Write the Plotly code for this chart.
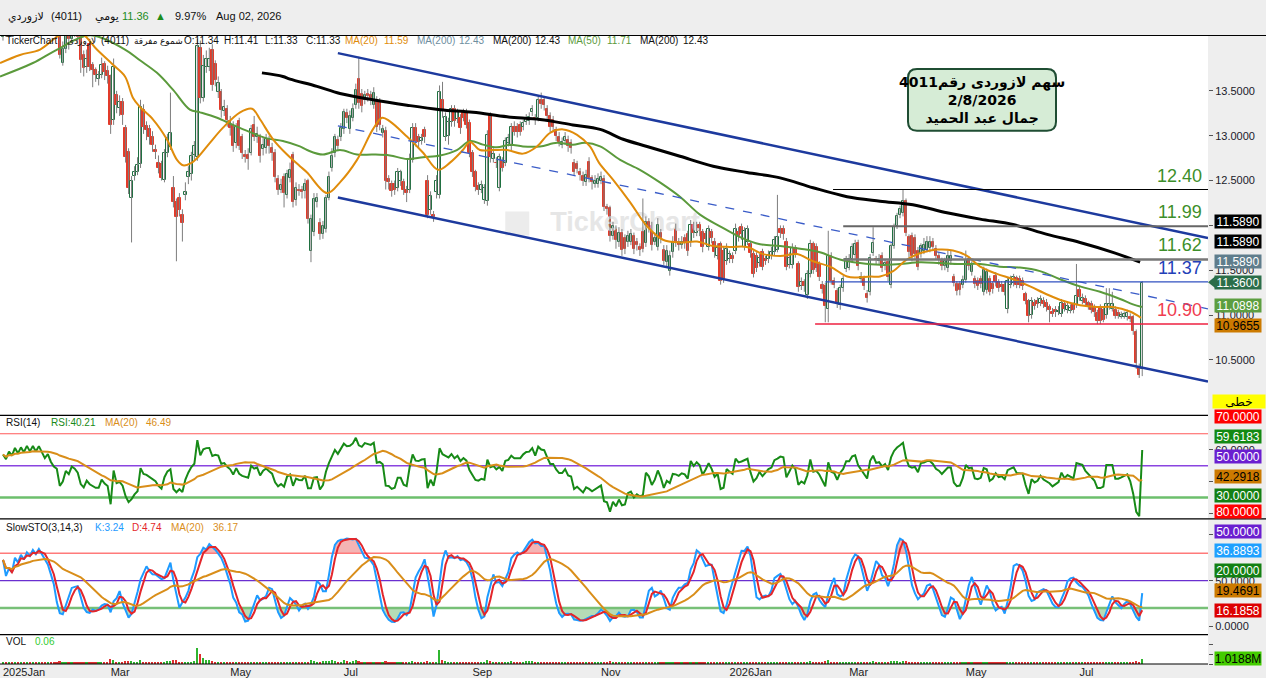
import numpy as np
import pandas as pd
import plotly.graph_objects as go
from plotly.subplots import make_subplots

# daily candles, index 0 = first visible session (Jan 2025)
opens = [
    14.10, 14.22, 14.15, 14.30, 14.24, 14.40, 14.32, 14.45, 14.38, 14.52,
    14.44, 14.56, 14.48, 14.60, 14.50, 14.42, 14.50, 14.38, 14.30, 14.28,
    13.81, 13.97, 14.15, 14.08, 14.22, 14.18, 14.10, 13.90, 13.76, 14.02,
    13.79, 13.73, 13.63, 13.68, 13.80, 13.72, 13.66, 13.18, 13.45, 13.31,
    13.38, 13.09, 12.82, 12.30, 12.55, 12.60, 12.68, 13.29, 13.11, 13.07,
    12.98, 12.84, 12.70, 12.68, 12.51, 12.81, 12.87, 12.42, 12.26, 12.31,
    12.12, 12.34, 12.54, 12.57, 12.79, 12.76, 13.98, 13.42, 13.76, 13.77,
    13.96, 13.80, 13.49, 13.49, 13.28, 13.30, 13.16, 13.12, 12.92, 13.16,
    12.98, 12.79, 12.79, 12.81, 13.12, 12.99, 12.98, 12.85, 12.86, 12.96,
    12.86, 12.81, 12.52, 12.40, 12.54, 12.34, 12.53, 12.79, 12.28, 12.40,
    12.40, 12.38, 12.49, 11.71, 11.93, 12.26, 12.03, 11.90, 11.96, 12.31,
    12.64, 12.81, 12.95, 12.99, 13.07, 13.25, 13.08, 13.20, 13.34, 13.63,
    13.46, 13.40, 13.47, 13.45, 13.34, 13.40, 13.38, 13.03, 13.05, 12.52,
    12.46, 12.46, 12.42, 12.49, 12.48, 12.40, 12.40, 12.73, 13.09, 12.98,
    12.94, 13.06, 12.50, 12.17, 12.12, 12.37, 12.34, 13.40, 12.99, 13.00,
    13.15, 13.30, 13.19, 13.20, 13.26, 13.26, 13.14, 12.81, 12.59, 12.44,
    12.40, 12.28, 12.27, 13.23, 12.74, 12.70, 12.42, 12.72, 12.70, 12.92,
    12.88, 13.10, 13.10, 13.12, 13.10, 13.15, 13.16, 13.26, 13.20, 13.20,
    13.40, 13.40, 13.30, 13.22, 13.18, 13.06, 12.99, 12.90, 12.94, 12.95,
    12.92, 12.70, 12.68, 12.59, 12.55, 12.48, 12.71, 12.53, 12.46, 12.46,
    12.50, 12.52, 12.21, 12.19, 11.88, 11.96, 11.82, 11.92, 11.86, 11.82,
    11.82, 11.88, 11.82, 11.76, 11.93, 11.80, 12.04, 11.99, 11.82, 11.76,
    11.92, 11.73, 11.59, 11.49, 11.70, 11.97, 11.82, 11.78, 11.86, 11.90,
    11.81, 12.01, 11.92, 12.00, 11.93, 11.90, 11.76, 11.93, 11.82, 11.66,
    11.79, 11.72, 11.60, 11.62, 11.66, 11.71, 11.93, 11.98, 11.76, 11.82,
    11.79, 11.68, 11.66, 11.58, 11.70, 11.62, 11.62, 11.66, 11.70, 11.73,
    11.96, 11.96, 11.82, 11.56, 11.56, 11.75, 11.57, 11.32, 11.37, 11.22,
    11.46, 11.79, 11.76, 11.57, 11.34, 11.32, 11.07, 11.66, 11.38, 11.27,
    11.11, 11.30, 11.51, 11.53, 11.63, 11.67, 11.80, 11.40, 11.40, 11.24,
    11.26, 11.69, 11.63, 11.60, 11.66, 11.56, 11.59, 11.34, 11.77, 11.99,
    12.12, 12.14, 12.27, 11.87, 11.88, 11.86, 11.72, 11.68, 11.72, 11.73,
    11.75, 11.82, 11.74, 11.66, 11.60, 11.55, 11.52, 11.60, 11.43, 11.35,
    11.35, 11.34, 11.39, 11.62, 11.48, 11.40, 11.38, 11.40, 11.26, 11.28,
    11.40, 11.35, 11.44, 11.37, 11.34, 11.34, 11.07, 11.34, 11.36, 11.41,
    11.40, 11.38, 11.23, 11.16, 11.00, 11.14, 11.16, 11.14, 11.16, 11.14,
    11.09, 11.04, 11.06, 11.03, 11.01, 11.12, 11.06, 11.05, 11.12, 11.11,
    11.28, 11.16, 11.18, 11.13, 11.12, 11.08, 11.02, 11.08, 11.06, 11.00,
    11.09, 11.07, 11.06, 11.02, 10.98, 10.98, 10.98, 10.98, 10.98, 10.81,
    10.42, 10.40,
]
closes = [
    14.22, 14.15, 14.30, 14.24, 14.40, 14.32, 14.45, 14.38, 14.52, 14.44,
    14.56, 14.48, 14.60, 14.50, 14.42, 14.50, 14.38, 14.30, 14.26, 13.90,
    13.97, 14.15, 14.08, 14.22, 14.18, 14.10, 13.84, 13.75, 13.86, 13.77,
    13.73, 13.68, 13.68, 13.79, 13.71, 13.66, 13.12, 13.77, 13.34, 13.37,
    13.23, 12.76, 12.42, 12.49, 12.60, 12.67, 13.32, 13.10, 13.06, 12.98,
    12.90, 12.82, 12.64, 12.53, 12.81, 12.97, 13.03, 12.26, 12.09, 12.17,
    12.03, 12.37, 12.59, 12.77, 12.88, 14.00, 13.42, 13.78, 13.85, 13.86,
    13.56, 13.62, 13.59, 13.29, 13.32, 13.18, 13.09, 12.89, 13.10, 12.89,
    12.81, 12.76, 12.74, 13.08, 12.99, 13.02, 12.77, 12.90, 12.96, 12.88,
    12.81, 12.54, 12.40, 12.45, 12.36, 12.57, 12.62, 12.26, 12.42, 12.38,
    12.37, 12.46, 12.07, 12.07, 12.29, 12.30, 11.90, 11.99, 12.30, 12.54,
    12.77, 12.98, 12.88, 13.09, 13.26, 13.20, 13.22, 13.30, 13.51, 13.36,
    13.33, 13.45, 13.44, 13.42, 13.48, 13.10, 13.12, 13.07, 12.49, 12.48,
    12.38, 12.40, 12.59, 12.59, 12.40, 12.36, 12.74, 13.09, 12.94, 12.93,
    12.97, 12.98, 12.12, 12.33, 12.09, 12.50, 13.49, 13.27, 13.21, 13.15,
    13.30, 13.16, 13.26, 13.09, 13.20, 13.12, 12.81, 12.60, 12.43, 12.40,
    12.45, 12.42, 13.01, 12.76, 12.80, 12.69, 12.76, 12.64, 12.94, 12.97,
    13.10, 13.04, 13.04, 13.04, 13.14, 13.20, 13.21, 13.30, 13.17, 13.40,
    13.35, 13.34, 13.22, 13.10, 13.10, 13.00, 12.93, 12.93, 12.99, 12.88,
    12.86, 12.60, 12.63, 12.56, 12.50, 12.56, 12.53, 12.48, 12.50, 12.52,
    12.54, 12.21, 12.18, 11.88, 11.99, 11.84, 11.92, 11.73, 11.74, 11.88,
    11.90, 11.74, 11.78, 11.73, 11.74, 12.04, 11.97, 11.78, 11.86, 12.01,
    11.86, 11.60, 11.72, 11.66, 11.82, 11.81, 11.78, 11.82, 11.80, 11.72,
    12.01, 11.92, 11.99, 11.94, 11.76, 11.85, 11.96, 11.86, 11.70, 11.75,
    11.38, 11.40, 11.74, 11.68, 11.63, 11.96, 11.88, 11.90, 11.94, 11.96,
    11.69, 11.46, 11.52, 11.64, 11.54, 11.60, 11.67, 11.70, 11.84, 11.87,
    11.91, 11.90, 11.54, 11.64, 11.75, 11.68, 11.31, 11.37, 11.32, 11.46,
    11.79, 11.50, 11.52, 11.43, 11.29, 11.10, 11.66, 11.38, 11.34, 11.12,
    11.30, 11.40, 11.62, 11.62, 11.76, 11.79, 11.55, 11.43, 11.33, 11.19,
    11.64, 11.80, 11.61, 11.63, 11.52, 11.58, 11.43, 11.77, 11.98, 12.10,
    12.18, 12.27, 11.92, 11.70, 11.66, 11.68, 11.54, 11.77, 11.78, 11.82,
    11.82, 11.76, 11.66, 11.62, 11.55, 11.60, 11.66, 11.66, 11.36, 11.27,
    11.28, 11.39, 11.61, 11.55, 11.56, 11.35, 11.33, 11.35, 11.50, 11.48,
    11.26, 11.29, 11.37, 11.30, 11.31, 11.26, 11.38, 11.40, 11.42, 11.34,
    11.34, 11.33, 11.16, 10.99, 11.16, 11.10, 11.12, 11.18, 11.12, 11.09,
    11.06, 11.01, 11.03, 11.05, 11.14, 11.07, 11.10, 11.08, 11.06, 11.21,
    11.20, 11.19, 11.13, 11.10, 11.06, 11.03, 10.94, 10.94, 10.95, 11.12,
    11.12, 11.12, 10.99, 10.99, 11.00, 11.01, 11.02, 10.96, 10.82, 10.47,
    10.33, 11.36,
]
highs = [
    14.28, 14.30, 14.36, 14.36, 14.46, 14.46, 14.52, 14.52, 14.58, 14.58,
    14.62, 14.62, 14.66, 14.66, 14.56, 14.56, 14.56, 14.44, 14.36, 14.32,
    14.05, 14.22, 14.20, 14.30, 14.30, 14.24, 14.15, 13.95, 13.96, 14.08,
    13.82, 13.76, 13.72, 13.87, 13.83, 13.78, 13.68, 13.86, 13.50, 13.45,
    13.42, 13.12, 12.86, 12.55, 12.66, 12.76, 13.40, 13.35, 13.16, 13.12,
    13.05, 12.90, 12.78, 12.72, 12.85, 13.02, 13.48, 12.55, 12.30, 12.36,
    12.18, 12.48, 12.66, 12.82, 12.94, 14.08, 14.06, 13.90, 13.95, 13.98,
    14.02, 13.84, 13.66, 13.52, 13.40, 13.34, 13.22, 13.16, 13.14, 13.20,
    13.02, 12.84, 12.86, 13.12, 13.22, 13.10, 13.02, 12.98, 13.02, 13.00,
    12.92, 12.85, 12.56, 12.52, 12.58, 12.62, 12.70, 12.82, 12.48, 12.46,
    12.44, 12.52, 12.52, 12.12, 12.36, 12.36, 12.08, 12.05, 12.34, 12.60,
    12.86, 13.02, 13.00, 13.14, 13.30, 13.30, 13.28, 13.36, 13.58, 13.88,
    13.52, 13.50, 13.52, 13.50, 13.54, 13.44, 13.42, 13.12, 13.10, 12.56,
    12.50, 12.50, 12.64, 12.62, 12.52, 12.44, 12.80, 13.14, 13.14, 13.02,
    13.02, 13.10, 12.56, 12.38, 12.16, 12.56, 13.56, 13.60, 13.26, 13.20,
    13.34, 13.34, 13.30, 13.24, 13.30, 13.30, 13.18, 12.84, 12.62, 12.48,
    12.50, 12.46, 13.06, 13.26, 12.86, 12.76, 12.80, 12.76, 12.98, 13.02,
    13.14, 13.16, 13.14, 13.16, 13.18, 13.24, 13.26, 13.34, 13.24, 13.44,
    13.48, 13.44, 13.34, 13.26, 13.22, 13.10, 13.04, 12.98, 13.04, 13.00,
    12.96, 12.74, 12.72, 12.64, 12.60, 12.62, 12.76, 12.56, 12.56, 12.58,
    12.60, 12.56, 12.24, 12.22, 12.04, 12.00, 11.98, 11.96, 11.90, 11.94,
    11.96, 11.92, 11.86, 11.80, 12.30, 12.10, 12.08, 12.04, 11.92, 12.08,
    11.96, 11.78, 11.78, 11.72, 11.88, 12.02, 11.86, 11.88, 11.90, 11.94,
    12.06, 12.04, 12.04, 12.04, 11.96, 11.94, 12.00, 11.96, 11.86, 11.80,
    11.82, 11.76, 11.80, 11.72, 11.70, 12.02, 11.98, 12.02, 11.98, 12.00,
    11.82, 11.72, 11.70, 11.68, 11.74, 11.66, 11.72, 11.76, 11.88, 12.34,
    12.00, 12.00, 11.86, 11.70, 11.80, 11.78, 11.60, 11.42, 11.40, 11.50,
    11.84, 11.82, 11.80, 11.60, 11.38, 11.36, 11.94, 11.70, 11.42, 11.30,
    11.34, 11.44, 11.66, 11.68, 11.80, 11.84, 11.84, 11.48, 11.44, 11.28,
    11.68, 11.98, 11.66, 11.68, 11.70, 11.62, 11.62, 11.80, 12.02, 12.14,
    12.22, 12.40, 12.30, 11.90, 11.92, 11.90, 11.76, 11.80, 11.86, 11.88,
    11.88, 11.86, 11.78, 11.70, 11.64, 11.64, 11.72, 11.72, 11.46, 11.38,
    11.38, 11.44, 11.72, 11.66, 11.60, 11.44, 11.42, 11.44, 11.54, 11.52,
    11.44, 11.38, 11.48, 11.40, 11.38, 11.38, 11.42, 11.44, 11.46, 11.44,
    11.44, 11.42, 11.26, 11.18, 11.20, 11.18, 11.20, 11.22, 11.20, 11.18,
    11.12, 11.08, 11.10, 11.10, 11.18, 11.16, 11.14, 11.12, 11.14, 11.57,
    11.32, 11.24, 11.22, 11.16, 11.16, 11.12, 11.06, 11.12, 11.10, 11.30,
    11.30, 11.26, 11.10, 11.06, 11.04, 11.04, 11.06, 11.02, 11.00, 10.84,
    10.46, 11.38,
]
lows = [
    14.06, 14.10, 14.09, 14.18, 14.18, 14.26, 14.26, 14.32, 14.32, 14.38,
    14.38, 14.42, 14.42, 14.44, 14.36, 14.36, 14.32, 14.24, 14.20, 13.86,
    13.78, 13.92, 13.96, 14.04, 14.10, 14.02, 13.70, 13.66, 13.70, 13.72,
    13.54, 13.60, 13.56, 13.64, 13.62, 13.58, 13.02, 13.12, 13.25, 13.22,
    13.12, 12.70, 12.35, 11.81, 12.50, 12.56, 12.64, 13.02, 12.95, 12.90,
    12.82, 12.74, 12.58, 12.50, 12.48, 12.76, 12.84, 12.20, 11.60, 12.10,
    11.82, 12.28, 12.46, 12.50, 12.72, 12.72, 13.36, 13.38, 13.70, 13.72,
    13.50, 13.55, 13.42, 13.20, 13.22, 13.10, 13.00, 12.82, 12.86, 12.84,
    12.74, 12.70, 12.62, 12.78, 12.94, 12.92, 12.70, 12.78, 12.80, 12.80,
    12.72, 12.48, 12.34, 12.36, 12.20, 12.30, 12.48, 12.20, 12.22, 12.33,
    12.30, 12.30, 12.02, 11.59, 11.88, 12.20, 11.84, 11.85, 11.92, 12.28,
    12.60, 12.76, 12.84, 12.94, 13.02, 13.14, 13.02, 13.16, 13.30, 13.30,
    13.26, 13.35, 13.38, 13.34, 13.30, 13.04, 13.06, 12.98, 12.40, 12.40,
    12.32, 12.34, 12.38, 12.44, 12.34, 12.26, 12.36, 12.70, 12.88, 12.86,
    12.90, 12.92, 12.08, 12.12, 12.04, 12.30, 12.30, 13.20, 12.94, 12.90,
    13.10, 13.10, 13.14, 13.02, 13.16, 13.08, 12.76, 12.54, 12.38, 12.34,
    12.36, 12.24, 12.22, 12.70, 12.70, 12.64, 12.38, 12.60, 12.66, 12.88,
    12.84, 13.00, 12.98, 13.00, 13.06, 13.12, 13.12, 13.22, 13.12, 13.16,
    13.30, 13.28, 13.16, 13.04, 13.04, 12.94, 12.88, 12.86, 12.90, 12.82,
    12.80, 12.56, 12.58, 12.50, 12.44, 12.44, 12.48, 12.40, 12.42, 12.42,
    12.46, 12.16, 12.12, 11.82, 11.84, 11.74, 11.76, 11.66, 11.68, 11.76,
    11.78, 11.68, 11.72, 11.66, 11.70, 11.76, 11.92, 11.72, 11.78, 11.72,
    11.80, 11.56, 11.54, 11.44, 11.64, 11.76, 11.72, 11.74, 11.74, 11.66,
    11.76, 11.86, 11.88, 11.88, 11.70, 11.80, 11.72, 11.80, 11.64, 11.62,
    11.34, 11.36, 11.56, 11.58, 11.58, 11.68, 11.82, 11.84, 11.72, 11.78,
    11.64, 11.42, 11.48, 11.54, 11.50, 11.56, 11.58, 11.62, 11.66, 11.70,
    11.86, 11.84, 11.50, 11.52, 11.52, 11.64, 11.26, 11.28, 11.26, 11.18,
    11.42, 11.46, 11.48, 11.38, 11.24, 10.92, 10.92, 11.34, 11.30, 11.08,
    11.06, 11.26, 11.48, 11.50, 11.58, 11.62, 11.50, 11.36, 11.28, 11.14,
    11.22, 11.66, 11.56, 11.56, 11.48, 11.50, 11.38, 11.30, 11.74, 11.96,
    12.08, 12.10, 11.88, 11.64, 11.60, 11.62, 11.50, 11.64, 11.68, 11.70,
    11.70, 11.72, 11.62, 11.56, 11.50, 11.50, 11.48, 11.56, 11.32, 11.22,
    11.22, 11.30, 11.36, 11.50, 11.44, 11.30, 11.28, 11.30, 11.22, 11.24,
    11.22, 11.24, 11.32, 11.26, 11.26, 11.22, 11.02, 11.30, 11.32, 11.30,
    11.30, 11.28, 11.12, 10.92, 10.96, 11.06, 11.08, 11.10, 11.08, 11.04,
    10.92, 10.98, 10.98, 11.00, 10.98, 11.04, 11.02, 11.02, 11.02, 11.08,
    11.16, 11.12, 11.10, 11.06, 11.02, 10.98, 10.90, 10.90, 10.92, 10.96,
    11.06, 11.04, 10.96, 10.96, 10.96, 10.96, 10.94, 10.92, 10.78, 10.40,
    10.30, 10.32,
]
volumes_m = [
    0.35, 0.30, 0.28, 0.40, 0.32, 0.45, 0.30, 0.38, 0.27, 0.25, 0.33, 0.36, 0.28, 0.26, 0.30, 0.24, 0.29, 0.27, 0.31, 0.55,
    0.42, 0.38, 0.30, 0.33, 0.26, 0.28, 0.40, 0.35, 0.30, 0.37, 0.29, 0.25, 0.24, 0.28, 0.26, 0.27, 0.95, 0.70, 0.45, 0.32,
    0.38, 0.55, 0.60, 0.65, 0.40, 0.33, 0.80, 0.45, 0.30, 0.28, 0.26, 0.22, 0.30, 0.33, 0.45, 0.50, 0.60, 0.75, 0.70, 0.40,
    0.45, 0.38, 0.35, 0.42, 0.50, 3.20, 2.00, 1.30, 0.90, 0.70, 0.60, 0.45, 0.38, 0.40, 0.30, 0.32, 0.28, 0.35, 0.30, 0.33,
    0.28, 0.22, 0.25, 0.30, 0.26, 0.22, 0.30, 0.24, 0.20, 0.22, 0.25, 0.35, 0.30, 0.22, 0.28, 0.32, 0.26, 0.40, 0.30, 0.22,
    0.20, 0.24, 0.45, 0.70, 0.50, 0.30, 0.35, 0.55, 0.60, 0.65, 0.70, 0.60, 0.35, 0.45, 0.80, 0.50, 0.45, 0.55, 0.75, 0.65,
    0.45, 0.30, 0.28, 0.25, 0.35, 0.40, 0.38, 0.30, 0.60, 0.35, 0.28, 0.25, 0.30, 0.26, 0.24, 0.28, 0.40, 0.55, 0.35, 0.28,
    0.25, 0.30, 0.50, 0.38, 0.35, 0.45, 2.90, 0.80, 0.50, 0.40, 0.45, 0.35, 0.30, 0.32, 0.28, 0.30, 0.45, 0.40, 0.35, 0.28,
    0.25, 0.30, 0.90, 0.55, 0.35, 0.28, 0.40, 0.30, 0.45, 0.38, 0.50, 0.30, 0.28, 0.26, 0.35, 0.55, 0.60, 0.50, 0.35, 0.45,
    0.40, 0.30, 0.28, 0.35, 0.30, 0.28, 0.25, 0.22, 0.26, 0.24, 0.28, 0.35, 0.26, 0.24, 0.22, 0.25, 0.30, 0.24, 0.22, 0.26,
    0.28, 0.45, 0.35, 0.50, 0.40, 0.30, 0.28, 0.35, 0.30, 0.26, 0.25, 0.28, 0.24, 0.26, 0.40, 0.45, 0.30, 0.28, 0.24, 0.35,
    0.28, 0.35, 0.30, 0.32, 0.28, 0.26, 0.22, 0.24, 0.20, 0.26, 0.35, 0.28, 0.25, 0.22, 0.26, 0.24, 0.30, 0.25, 0.28, 0.24,
    0.45, 0.35, 0.32, 0.26, 0.22, 0.40, 0.30, 0.28, 0.30, 0.32, 0.28, 0.35, 0.30, 0.26, 0.28, 0.22, 0.25, 0.26, 0.30, 0.45,
    0.30, 0.28, 0.38, 0.30, 0.32, 0.26, 0.45, 0.35, 0.30, 0.38, 0.50, 0.35, 0.30, 0.32, 0.30, 0.55, 0.70, 0.45, 0.35, 0.40,
    0.35, 0.32, 0.40, 0.35, 0.38, 0.40, 0.45, 0.30, 0.28, 0.35, 0.45, 0.50, 0.30, 0.28, 0.30, 0.26, 0.35, 0.55, 0.60, 0.50,
    0.45, 0.65, 0.55, 0.40, 0.35, 0.38, 0.30, 0.32, 0.28, 0.30, 0.26, 0.28, 0.30, 0.26, 0.28, 0.25, 0.30, 0.28, 0.40, 0.35,
    0.30, 0.28, 0.40, 0.30, 0.26, 0.30, 0.28, 0.26, 0.35, 0.30, 0.28, 0.26, 0.25, 0.24, 0.22, 0.26, 0.40, 0.30, 0.28, 0.25,
    0.24, 0.22, 0.35, 0.40, 0.30, 0.26, 0.24, 0.22, 0.20, 0.24, 0.30, 0.26, 0.22, 0.20, 0.28, 0.24, 0.22, 0.20, 0.22, 0.38,
    0.30, 0.25, 0.22, 0.24, 0.26, 0.28, 0.30, 0.26, 0.24, 0.40, 0.35, 0.30, 0.26, 0.22, 0.20, 0.22, 0.24, 0.26, 0.35, 0.50,
    0.45, 1.02,
]

# moving averages as drawn on the chart (session index, price)
ma20_x = [-1, 5.7, 12.4, 19.1, 25.8, 31.4, 36.8, 40.8, 43.5, 45.8, 50.2, 54.8, 58.2, 60.2, 63.2, 65.2,
          69.2, 73.6, 79.3, 83.3, 86.0, 90.3, 95.0, 99.3, 101.7, 108.4, 112.7, 118.4, 123.7, 126.8,
          129.4, 135.1, 140.5, 145.5, 149.5, 153.8, 156.2, 159.5, 163.9, 168.6, 173.9, 178.6, 182.9,
          187.3, 192.0, 196.3, 199.3, 204.0, 209.7, 215.4, 220.7, 226.4, 232.1, 237.5, 243.1, 248.8,
          254.2, 259.9, 265.6, 270.9, 276.6, 282.3, 285.6, 290.0, 293.3, 297.7, 302.3, 307.7, 312.4,
          317.7, 322.4, 326.8, 332.4, 337.8, 343.5, 349.2, 354.5, 360.2, 365.9, 371.2, 376.9, 380.6]
ma20_y = [13.81, 13.90, 13.96, 14.12, 14.15, 13.96, 13.79, 13.66, 13.42, 13.32, 13.18, 12.96, 12.73,
          12.67, 12.70, 12.76, 12.92, 13.09, 13.26, 13.30, 13.18, 12.96, 12.79, 12.66, 12.59, 12.36,
          12.48, 12.73, 13.07, 13.20, 13.16, 12.99, 12.81, 12.62, 12.70, 12.84, 12.93, 12.84, 12.84,
          12.84, 12.80, 12.88, 13.03, 13.07, 13.01, 12.88, 12.70, 12.51, 12.26, 11.99, 11.84, 11.81,
          11.82, 11.77, 11.76, 11.76, 11.68, 11.66, 11.68, 11.60, 11.54, 11.43, 11.42, 11.43, 11.43,
          11.49, 11.62, 11.70, 11.73, 11.72, 11.66, 11.54, 11.46, 11.40, 11.32, 11.23, 11.16, 11.11,
          11.09, 11.09, 11.04, 10.97]
ma50_x = [-1, 10.0, 18.1, 29.1, 40.8, 45.8, 51.5, 56.9, 62.5, 65.9, 71.6, 76.9, 82.6, 88.3, 93.6,
          99.3, 101.7, 107.0, 112.7, 118.4, 123.7, 129.4, 135.1, 140.5, 146.2, 151.8, 156.2, 160.5,
          165.2, 169.6, 173.9, 179.6, 185.3, 190.6, 194.6, 199.7, 206.4, 213.0, 219.7, 226.4, 233.1,
          239.8, 246.5, 253.2, 259.9, 266.6, 273.2, 279.9, 286.6, 293.3, 300.0, 306.7, 313.4, 320.1,
          326.8, 333.4, 340.1, 346.8, 353.5, 360.2, 366.9, 373.6, 377.9, 380.9]
ma50_y = [13.66, 13.81, 13.96, 14.12, 13.96, 13.84, 13.70, 13.51, 13.29, 13.26, 13.20, 13.12, 13.04,
          12.97, 12.94, 12.88, 12.84, 12.79, 12.84, 12.79, 12.79, 12.78, 12.74, 12.76, 12.78, 12.84,
          12.94, 12.90, 12.87, 12.90, 12.88, 12.88, 12.92, 12.90, 12.92, 12.88, 12.73, 12.62, 12.48,
          12.32, 12.12, 11.99, 11.87, 11.79, 11.77, 11.74, 11.70, 11.62, 11.58, 11.56, 11.57, 11.59,
          11.58, 11.57, 11.57, 11.54, 11.53, 11.49, 11.40, 11.32, 11.26, 11.18, 11.12, 11.09]
ma200_x = [86.6, 93.6, 96.0, 105.0, 112.7, 123.7, 135.1, 146.2, 157.2, 168.6, 179.6, 190.6, 199.7,
           207.4, 215.4, 226.4, 237.5, 248.8, 259.9, 270.9, 282.3, 293.3, 304.3, 315.7, 326.8, 337.8,
           349.2, 360.2, 371.2, 380.3]
ma200_y = [13.70, 13.66, 13.63, 13.55, 13.47, 13.40, 13.34, 13.29, 13.26, 13.21, 13.18, 13.12, 13.07,
           12.96, 12.88, 12.77, 12.66, 12.59, 12.53, 12.42, 12.32, 12.27, 12.23, 12.14, 12.07, 12.01,
           11.90, 11.81, 11.70, 11.59]

# drawn trend channel and horizontal levels
chan_x = [112.0, 403.0]
chan_upper = [13.92, 11.86]
chan_mid = [13.11, 11.07]
chan_lower = [12.31, 10.26]
level_vals = [12.40, 11.99, 11.62, 11.37, 10.90]
level_start = [277.6, 281.0, 281.0, 275.0, 271.6]
level_text = ["12.40", "11.99", "11.62", "11.37", "10.90"]

month_pos = [0, 36, 76, 114, 157, 200, 243, 283, 322, 360]
month_labels = ["2025Jan", "Mar", "May", "Jul", "Sep", "Nov", "2026Jan", "Mar", "May", "Jul"]

n = min(len(opens), len(highs), len(lows), len(closes), len(volumes_m))
o = np.array(opens[:n]); h = np.array(highs[:n]); l = np.array(lows[:n]); c = np.array(closes[:n])
vol = np.array(volumes_m[:n])
idx = np.arange(n)
up = c >= o

# RSI(14), Wilder smoothing seeded with the average of the first 14 changes
diff = np.diff(c, prepend=c[0])
gains = np.clip(diff, 0, None)
losses = np.clip(-diff, 0, None)
avg_g, avg_l = gains[1:15].mean(), losses[1:15].mean()
rsi_vals = np.empty(n)
rsi_vals[0] = 100 - 100 / (1 + avg_g / avg_l)
for i in range(1, n):
    avg_g = (avg_g * 13 + gains[i]) / 14
    avg_l = (avg_l * 13 + losses[i]) / 14
    rsi_vals[i] = 100.0 if avg_l == 0 else 100 - 100 / (1 + avg_g / avg_l)
rsi = pd.Series(rsi_vals)
rsi_ma = rsi.rolling(20, min_periods=1).mean()

# slow stochastic (3,14,3)
cs = pd.Series(c)
ll = pd.Series(l).rolling(14, min_periods=1).min()
hh = pd.Series(h).rolling(14, min_periods=1).max()
fast_k = 100 * (cs - ll) / (hh - ll)
k_line = fast_k.rolling(3, min_periods=1).mean()
d_line = k_line.rolling(3, min_periods=1).mean()
k_ma = k_line.rolling(20, min_periods=1).mean()

W, H = 1266, 678
ML, MR, MT, MB = 0, 58, 36, 12
PW, PH = W - ML - MR, H - MT - MB


def px(xp):
    return (xp - ML) / PW


def py(yp):
    return (H - MB - yp) / PH


FONT = "Liberation Sans, DejaVu Sans, Arial"
XR = [-1, 403]

fig = make_subplots(rows=4, cols=1, shared_xaxes=True, vertical_spacing=0)

# watermark
fig.add_trace(go.Scatter(x=[172], y=[12.02], mode="markers", marker=dict(symbol="square", size=24, color="#ececec"),
                         hoverinfo="skip"), row=1, col=1)
fig.add_trace(go.Scatter(x=[208], y=[12.01], mode="text", text=["<b>TickerChart</b>"],
                         textfont=dict(size=27, color="#e6e6e6", family=FONT), hoverinfo="skip"), row=1, col=1)

# wicks + bodies
wx, wy = [], []
for i in range(n):
    wx += [i, i, None]
    wy += [l[i], h[i], None]
fig.add_trace(go.Scatter(x=wx, y=wy, mode="lines", line=dict(color="#7d7d7d", width=1), hoverinfo="skip"),
              row=1, col=1)
fig.add_trace(go.Bar(x=idx, y=np.maximum(np.abs(c - o), 0.008), base=np.minimum(o, c), width=0.82,
                     marker=dict(color=np.where(up, "white", "#e23b2a"),
                                 line=dict(color=np.where(up, "#1f7040", "#e23b2a"), width=1)),
                     hoverinfo="skip"), row=1, col=1)

fig.add_trace(go.Scatter(x=ma50_x, y=ma50_y, mode="lines", line=dict(color="#5b9a3c", width=2, shape="spline"),
                         hoverinfo="skip"), row=1, col=1)
fig.add_trace(go.Scatter(x=ma20_x, y=ma20_y, mode="lines", line=dict(color="#e08c0b", width=2, shape="spline"),
                         hoverinfo="skip"), row=1, col=1)
fig.add_trace(go.Scatter(x=ma200_x, y=ma200_y, mode="lines", line=dict(color="#000000", width=3, shape="spline"),
                         hoverinfo="skip"), row=1, col=1)

for yy, dash, w in [(chan_upper, "solid", 2.5), (chan_lower, "solid", 2.5), (chan_mid, "dash", 1.3)]:
    fig.add_trace(go.Scatter(x=chan_x, y=yy, mode="lines",
                             line=dict(color="#1d3a9e" if dash == "solid" else "#3a5cc8", width=w, dash=dash),
                             hoverinfo="skip"), row=1, col=1)

level_style = [("#000000", 1.2), ("#666666", 2), ("#777777", 2.5), ("#3050c0", 1.2), ("#ee2040", 1.5)]
level_font = ["#3d8f2a", "#3d8f2a", "#3d8f2a", "#2340b8", "#f03c50"]
for v, s, (col, w) in zip(level_vals, level_start, level_style):
    fig.add_trace(go.Scatter(x=[s, XR[1]], y=[v, v], mode="lines", line=dict(color=col, width=w),
                             hoverinfo="skip"), row=1, col=1)

# RSI panel
for v, col, w in [(70, "#ff5a5a", 1.2), (50, "#8a44e0", 1.5), (30, "#6cbf6c", 2.5)]:
    fig.add_trace(go.Scatter(x=XR, y=[v, v], mode="lines", line=dict(color=col, width=w), hoverinfo="skip"),
                  row=2, col=1)
fig.add_trace(go.Scatter(x=idx, y=rsi, mode="lines", line=dict(color="#178a17", width=2), hoverinfo="skip"),
              row=2, col=1)
fig.add_trace(go.Scatter(x=idx, y=rsi_ma, mode="lines", line=dict(color="#d98e1a", width=2), hoverinfo="skip"),
              row=2, col=1)

# Slow stochastic panel
fig.add_trace(go.Scatter(x=idx, y=np.full(n, 80.0), mode="lines", line=dict(width=0), hoverinfo="skip"),
              row=3, col=1)
fig.add_trace(go.Scatter(x=idx, y=np.maximum(k_line, 80), mode="lines", line=dict(width=0), fill="tonexty",
                         fillcolor="#f4b4b4", hoverinfo="skip"), row=3, col=1)
fig.add_trace(go.Scatter(x=idx, y=np.full(n, 20.0), mode="lines", line=dict(width=0), hoverinfo="skip"),
              row=3, col=1)
fig.add_trace(go.Scatter(x=idx, y=np.minimum(k_line, 20), mode="lines", line=dict(width=0), fill="tonexty",
                         fillcolor="#b6dcb6", hoverinfo="skip"), row=3, col=1)
for v, col, w in [(80, "#ff7a7a", 1.5), (50, "#6a2fd0", 1.2), (20, "#77c077", 2.5)]:
    fig.add_trace(go.Scatter(x=XR, y=[v, v], mode="lines", line=dict(color=col, width=w), hoverinfo="skip"),
                  row=3, col=1)
fig.add_trace(go.Scatter(x=idx, y=k_line, mode="lines", line=dict(color="#1e9bff", width=2), hoverinfo="skip"),
              row=3, col=1)
fig.add_trace(go.Scatter(x=idx, y=d_line, mode="lines", line=dict(color="#e3262b", width=2), hoverinfo="skip"),
              row=3, col=1)
fig.add_trace(go.Scatter(x=idx, y=k_ma, mode="lines", line=dict(color="#d98e1a", width=2), hoverinfo="skip"),
              row=3, col=1)

# volume
fig.add_trace(go.Bar(x=idx, y=vol, width=0.55, marker=dict(color=np.where(up, "#2fb52f", "#e03030"), line=dict(width=0)),
                     hoverinfo="skip"), row=4, col=1)

ax_common = dict(side="right", showgrid=False, zeroline=False, showline=False, ticks="outside", ticklen=4,
                 tickcolor="#555555", tickfont=dict(size=11, color="#1a1a2a", family=FONT))
# labels that sit fully under the value tags in the reference are left blank
fig.update_yaxes(row=1, col=1, domain=[py(416), py(36)], range=[9.889, 14.111],
                 tickvals=[10.5, 11.0, 11.5, 12.0, 12.5, 13.0, 13.5],
                 ticktext=["10.5000", "11.0000", "11.5000", "", "12.5000", "13.0000", "13.5000"], **ax_common)
fig.update_yaxes(row=2, col=1, domain=[py(520), py(417)], range=[16.9, 81.25], tickvals=[20, 40, 60],
                 ticktext=["", "", "60.0000"], **ax_common)
fig.update_yaxes(row=3, col=1, domain=[py(636), py(521)], range=[-8.5, 117.0], tickvals=[0, 50, 100],
                 ticktext=["0.0000", "50.0000", ""], **ax_common)
fig.update_yaxes(row=4, col=1, domain=[0, py(637)], range=[0, 5.9], showticklabels=False, **ax_common)
fig.update_xaxes(range=XR, showgrid=False, zeroline=False, showline=False, ticks="")
fig.update_xaxes(row=4, col=1, tickvals=month_pos, ticktext=month_labels, ticklabelposition="outside right",
                 tickfont=dict(size=11, color="#222222", family=FONT))

ann = []


def txt(t, x, y, color="#111111", size=10, anchor="left", **kw):
    ann.append(dict(text=t, x=px(x), y=py(y), xref="paper", yref="paper", xanchor=anchor, yanchor="middle",
                    showarrow=False, font=dict(size=size, color=color, family=FONT), **kw))


# header row
txt("لازوردي", 6, 16, size=11)
txt("(4011)", 49, 16, size=11)
txt("يومي", 93, 16, size=11)
txt("11.36", 120, 16, color="#1c8c1c", size=11)
txt("▲", 153, 16, color="#1c8c1c", size=11)
txt("9.97%", 173, 16, size=11)
txt("Aug 02, 2026", 214, 16, size=11)

# legend rows
for t, x, col, sz in [("TickerChart", 4, "#111111", 10), ("لازوردى", 65, "#111111", 9),
                      ("(4011)", 99, "#111111", 10), ("شموع مفرقة", 132, "#111111", 9),
                      ("O:11.34", 182, "#111111", 10), ("H:11.41", 222, "#111111", 10),
                      ("L:11.33", 263, "#111111", 10), ("C:11.33", 304, "#111111", 10),
                      ("MA(20)", 343, "#e08c0b", 10), ("11.59", 382, "#e08c0b", 10),
                      ("MA(200)", 415, "#6e8ea0", 10), ("12.43", 457, "#6e8ea0", 10),
                      ("MA(200)", 491, "#111111", 10), ("12.43", 533, "#111111", 10),
                      ("MA(50)", 566, "#5b9a3c", 10), ("11.71", 605, "#5b9a3c", 10),
                      ("MA(200)", 638, "#111111", 10), ("12.43", 681, "#111111", 10)]:
    txt(t, x, 41, color=col, size=sz)
for t, x, col in [("RSI(14)", 4, "#111111"), ("RSI:40.21", 49, "#178a17"), ("MA(20)", 103, "#d98e1a"),
                  ("46.49", 144, "#d98e1a")]:
    txt(t, x, 424, color=col)
for t, x, col in [("SlowSTO(3,14,3)", 4, "#111111"), ("K:3.24", 93, "#1e9bff"), ("D:4.74", 130, "#e3262b"),
                  ("MA(20)", 169, "#d98e1a"), ("36.17", 211, "#d98e1a")]:
    txt(t, x, 529, color=col)
txt("VOL", 4, 643)
txt("0.06", 33, 643, color="#33cc33")

# level captions
for v, t, col in zip(level_vals, level_text, level_font):
    ann.append(dict(text=t, x=393.5, y=v, xref="x", yref="y", xanchor="center", yanchor="middle", yshift=14,
                    showarrow=False, font=dict(size=18, color=col, family=FONT)))

# note box
ann.append(dict(text="<b>سهم لازوردى رقم4011</b><br><b>2/8/2026</b><br><b>جمال عبد الحميد</b>",
                x=px(982), y=py(100), xref="paper", yref="paper", xanchor="center", yanchor="middle",
                showarrow=False, font=dict(size=14, color="#000000", family="DejaVu Sans")))

# right-hand value tags
tags = [("11.5890", 222, "#000000", "white"), ("11.5890", 242, "#000000", "white"),
        ("11.5890", 262, "#5f7d8c", "white"), ("11.3600", 283, "#2b6e4a", "white"),
        ("11.0898", 306, "#5c9e40", "white"), ("10.9655", 326, "#cc7a00", "black"),
        ("70.0000", 418, "#ff0000", "white"), ("59.6183", 438, "#138a13", "white"),
        ("50.0000", 458, "#6a1fd0", "white"), ("42.2918", 478, "#cc7a00", "black"),
        ("30.0000", 497, "#138013", "white"), ("80.0000", 513, "#ff0000", "white"),
        ("50.0000", 533, "#6a1fd0", "white"), ("36.8893", 552, "#1ea0ff", "white"),
        ("20.0000", 572, "#138013", "white"), ("19.4691", 592, "#cc7a00", "black"),
        ("16.1858", 612, "#dd0000", "white"), ("1.0188M", 660, "#44cc00", "black")]
for t, y, bg, fg in tags:
    ann.append(dict(text=t, x=px(1238), y=py(y), xref="paper", yref="paper", xanchor="center", yanchor="middle",
                    showarrow=False, bgcolor=bg, width=46, height=13, borderpad=0,
                    font=dict(size=12, color=fg, family=FONT)))
ann.append(dict(text="خطي", x=px(1239), y=py(403), xref="paper", yref="paper", xanchor="center", yanchor="middle",
                showarrow=False, bgcolor="#ffff00", width=52, height=13, borderpad=0,
                font=dict(size=12, color="#000000", family=FONT)))

shapes = []
# arrow point of the last-price tag
shapes.append(dict(type="path", xref="paper", yref="paper", fillcolor="#2b6e4a", line=dict(width=0),
                   path=f"M {px(1208)},{py(283)} L {px(1216)},{py(276.5)} L {px(1216)},{py(289.5)} Z"))


def rounded(x0, y0, x1, y1, r):
    p = lambda a, b: f"{px(a)},{py(b)}"
    return (f"M {p(x0 + r, y0)} L {p(x1 - r, y0)} Q {p(x1, y0)} {p(x1, y0 + r)} L {p(x1, y1 - r)} "
            f"Q {p(x1, y1)} {p(x1 - r, y1)} L {p(x0 + r, y1)} Q {p(x0, y1)} {p(x0, y1 - r)} "
            f"L {p(x0, y0 + r)} Q {p(x0, y0)} {p(x0 + r, y0)} Z")


shapes.append(dict(type="path", xref="paper", yref="paper", path=rounded(908, 69, 1056, 131, 9),
                   fillcolor="#d6ecd6", line=dict(color="#1f4d33", width=2), layer="above"))
# panel separators
for yy, x1 in [(35.5, W), (416.5, 1208), (520.5, W), (636.5, 1208), (666, 1208)]:
    shapes.append(dict(type="line", xref="paper", yref="paper", x0=0, x1=px(x1), y0=py(yy), y1=py(yy),
                       line=dict(color="#000000", width=1.2)))

fig.update_layout(width=W, height=H, margin=dict(l=ML, r=MR, t=MT, b=MB), showlegend=False,
                  paper_bgcolor="#eeeeee", plot_bgcolor="#ffffff", annotations=ann, shapes=shapes,
                  font=dict(family=FONT), bargap=0)

fig.write_html("out.html", config={"displayModeBar": False},
               post_script="document.body.style.margin='0';document.body.style.overflow='hidden';")
